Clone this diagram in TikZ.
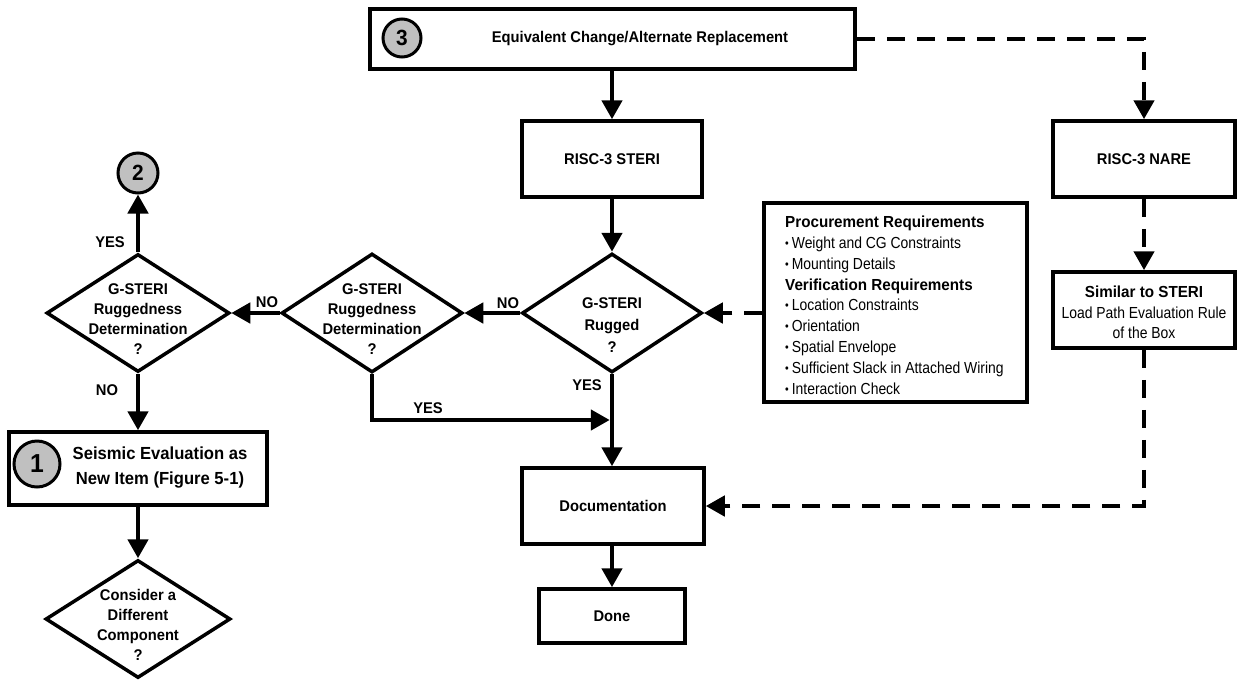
\documentclass[tikz,border=0pt]{standalone}
\usepackage{fontspec}
\setmainfont{Liberation Sans}
\newfontfamily\lblfont{Liberation Sans}[FakeStretch=0.95]
\newfontfamily\listfont{Liberation Sans}[FakeStretch=0.87]
\usetikzlibrary{arrows.meta,shapes.geometric}
\definecolor{markgray}{RGB}{192,192,192}
\newcommand{\blt}{\raisebox{0.8pt}{\fontsize{12}{12}\selectfont\textbullet}\hspace{3pt}}

\begin{document}
\begin{tikzpicture}[x=1pt,y=-1pt,
  every node/.style={font={\lblfont\bfseries\fontsize{15.5}{20}\selectfont}},
  procbox/.style={draw, line width=3.5pt, rectangle, fill=white, inner sep=0pt, align=center},
  decision/.style={draw, line width=3.5pt, diamond, inner sep=0pt},
  marker/.style={draw, line width=3pt, circle, fill=markgray, inner sep=0pt},
  lbl/.style={inner sep=0pt, align=center},
  listline/.style={inner sep=0pt, anchor=base west, font={\listfont\mdseries\fontsize{16}{20}\selectfont}},
  listhead/.style={inner sep=0pt, anchor=base west, font={\lblfont\bfseries\fontsize{16}{20}\selectfont}},
  flow/.style={line width=4.5pt, -{Triangle[length=19pt,width=20pt]}},
  dashflow/.style={flow, dash pattern=on 18pt off 12pt}
]
\useasboundingbox (0,0) rectangle (1238,681);

% ---------- boxes ----------
\node[procbox, minimum width=485pt, minimum height=60pt] (top) at (612.5,39)
  {\hspace*{55pt}Equivalent Change/Alternate Replacement};
\node[marker, minimum size=38pt, font={\lblfont\bfseries\fontsize{22}{22}\selectfont}] (m3) at (402,38) {3};

\node[procbox, minimum width=180pt, minimum height=76pt] (steri) at (612,159) {RISC-3 STERI};
\node[procbox, minimum width=182pt, minimum height=76pt] (nare) at (1144,159) {RISC-3 NARE};

\node[procbox, minimum width=182pt, minimum height=76pt] (similar) at (1144,310) {};
\node[inner sep=0pt, anchor=base, font={\lblfont\bfseries\fontsize{16}{20}\selectfont}] (s1) at (1144,297) {Similar to STERI};
\node[inner sep=0pt, anchor=base, font={\listfont\mdseries\fontsize{16}{20}\selectfont}] (s2) at (1144,318) {Load Path Evaluation Rule};
\node[inner sep=0pt, anchor=base, font={\listfont\mdseries\fontsize{16}{20}\selectfont}] (s3) at (1144,338) {of the Box};

\node[procbox, minimum width=263pt, minimum height=199pt] (proc) at (895.5,302.5) {};
\node[listhead] (p1) at (785,227) {Procurement Requirements};
\node[listline] (p2) at (785,248) {\blt Weight and CG Constraints};
\node[listline] (p3) at (785,269) {\blt Mounting Details};
\node[listhead] (p4) at (785,290) {Verification Requirements};
\node[listline] (p5) at (785,310.5) {\blt Location Constraints};
\node[listline] (p6) at (785,331) {\blt Orientation};
\node[listline] (p7) at (785,352) {\blt Spatial Envelope};
\node[listline] (p8) at (785,373) {\blt Sufficient Slack in Attached Wiring};
\node[listline] (p9) at (785,394) {\blt Interaction Check};

% ---------- decisions ----------
\node[decision, minimum width=180pt, minimum height=119pt] (rugged) at (612,313) {};
\node[lbl, font={\lblfont\bfseries\fontsize{15.5}{22}\selectfont}] (ruggedtxt) at (612,325) {G-STERI\\Rugged\\?};

\node[decision, minimum width=181pt, minimum height=119pt] (mid) at (372,313) {};
\node[lbl] (midtxt) at (372,319) {G-STERI\\Ruggedness\\Determination\\?};

\node[decision, minimum width=183pt, minimum height=118pt] (left) at (138,313) {};
\node[lbl] (lefttxt) at (138,319) {G-STERI\\Ruggedness\\Determination\\?};

\node[marker, minimum size=40pt, font={\lblfont\bfseries\fontsize{22}{22}\selectfont}] (m2) at (138,173) {2};

\node[procbox, minimum width=258pt, minimum height=73pt] (seis) at (138,468.5) {};
\node[lbl, font={\lblfont\bfseries\fontsize{17.5}{25}\selectfont}] (seistxt) at (160,468) {Seismic Evaluation as\\New Item (Figure 5-1)};
\node[marker, minimum size=46pt, font={\lblfont\bfseries\fontsize{26}{26}\selectfont}] (m1) at (37,464) {1};

\node[decision, minimum width=185pt, minimum height=118pt] (consider) at (138,619) {};
\node[lbl] (considertxt) at (138,625) {Consider a\\Different\\Component\\?};

\node[procbox, minimum width=182pt, minimum height=76pt] (doc) at (613,506) {Documentation};
\node[procbox, minimum width=146pt, minimum height=54pt] (done) at (612,616) {Done};

% ---------- connectors ----------
\draw[flow] (steri.north |- top.south) -- (steri.north);
\draw[flow] (steri.south) -- (rugged.north);
\draw[flow] (rugged.west) -- (mid.east);
\draw[flow] (mid.west) -- (left.east);
\draw[flow] (left.north) -- (m2.south);
\draw[flow] (left.south) -- (seis.north);
\draw[flow] (seis.south) -- (consider.north);
\coordinate (yesend) at (609.75,420);
\draw[flow] (mid.south) |- (yesend);
\draw[flow] (rugged.south) -- (rugged.south |- doc.north);
\draw[flow] (doc.south -| done.north) -- (done.north);

\coordinate (nareturn) at (1144,39);
\draw[dashflow] (top.east) -- (nareturn) -- (nare.north);
\draw[dashflow] (nare.south) -- (similar.north);
\coordinate (docturn) at (1144,506);
\draw[dashflow] (similar.south) -- (docturn) -- (doc.east);
\draw[dashflow] (proc.west |- rugged.east) -- (rugged.east);

% ---------- branch labels ----------
\node[inner sep=0pt] (yes2) at (110,242) {YES};
\node[inner sep=0pt] (no1) at (267,302) {NO};
\node[inner sep=0pt] (no2) at (508,303) {NO};
\node[inner sep=0pt] (no3) at (107,390) {NO};
\node[inner sep=0pt] (yes1) at (428,408) {YES};
\node[inner sep=0pt] (yes3) at (587,385) {YES};
\end{tikzpicture}
\end{document}
